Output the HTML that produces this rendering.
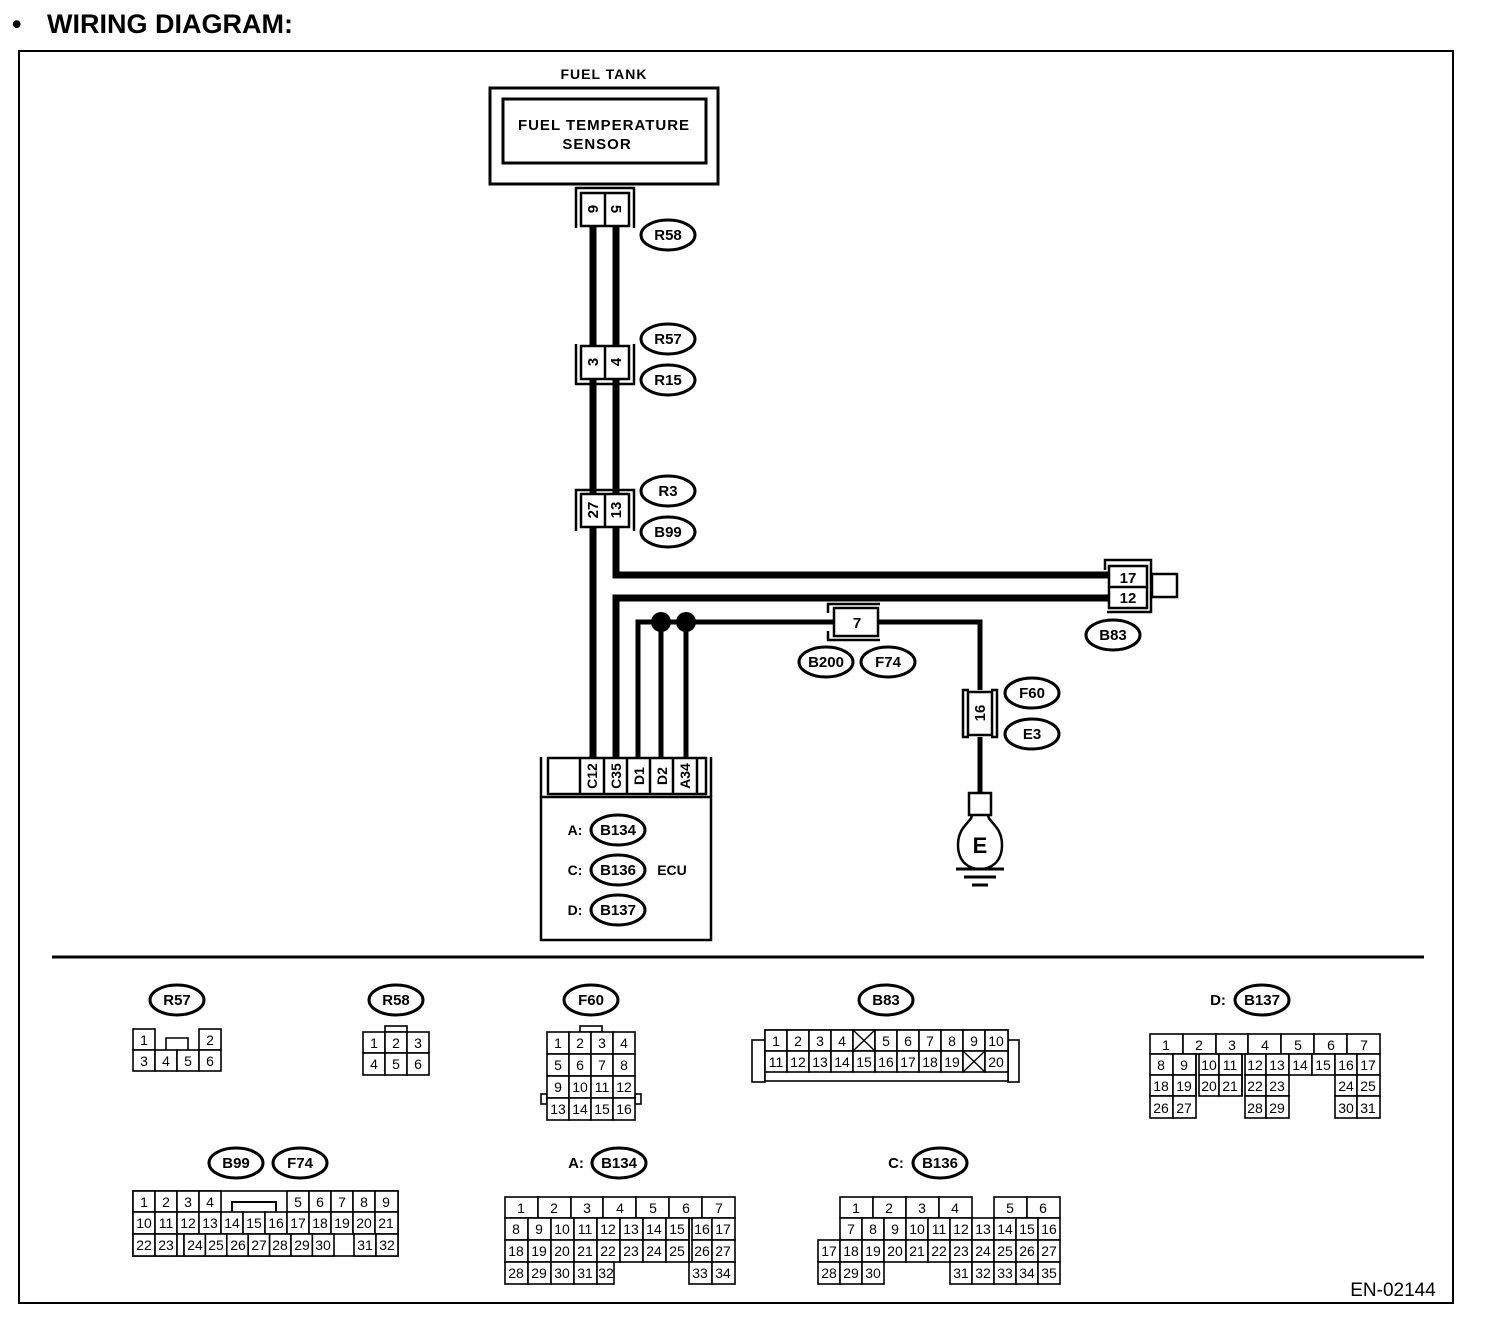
<!DOCTYPE html>
<html><head><meta charset="utf-8"><style>
html,body{margin:0;padding:0;background:#fff}
svg{display:block}
text{font-family:"Liberation Sans",sans-serif;fill:#000}
.c rect{fill:#fff;stroke:#000;stroke-width:1.6}
.c text{font-size:14px;text-anchor:middle}
.o ellipse{fill:#fff;stroke:#000;stroke-width:3}
.o text{font-size:15px;font-weight:bold;text-anchor:middle}
.b{font-weight:bold}
</style></head><body>
<svg width="1504" height="1320" viewBox="0 0 1504 1320" xmlns="http://www.w3.org/2000/svg">
<text x="12" y="33" font-size="27" class="b">•</text>
<text x="47" y="33" font-size="27" class="b">WIRING DIAGRAM:</text>
<rect x="19" y="51" width="1434" height="1252" fill="none" stroke="#000" stroke-width="2"/>

<!-- sensor -->
<text x="604" y="79" font-size="14" class="b" text-anchor="middle" letter-spacing="1">FUEL TANK</text>
<rect x="490" y="88" width="228" height="96" fill="none" stroke="#000" stroke-width="3"/>
<rect x="503" y="99" width="203" height="64" fill="none" stroke="#000" stroke-width="3"/>
<text x="604" y="130" font-size="15" class="b" text-anchor="middle" letter-spacing="1">FUEL TEMPERATURE</text>
<text x="597" y="149" font-size="15" class="b" text-anchor="middle" letter-spacing="1">SENSOR</text>

<!-- thick wires -->
<g fill="none" stroke="#000" stroke-width="7">
<line x1="593" y1="226" x2="593" y2="758"/>
<polyline points="616,226 616,575 1109,575"/>
<polyline points="1109,598 616,598 616,758"/>
</g>
<g fill="none" stroke="#000" stroke-width="5">
<polyline points="638,758 638,622 834,622"/>
<polyline points="878,622 980,622 980,690"/>
<line x1="980" y1="737" x2="980" y2="793"/>
<line x1="661" y1="622" x2="661" y2="758"/>
<line x1="686" y1="622" x2="686" y2="758"/>
</g>
<circle cx="661" cy="622" r="10"/><circle cx="686" cy="622" r="10"/>

<!-- R58 connector -->
<g fill="none" stroke="#000" stroke-width="2.5">
<polyline points="576,228 576,188 634,188 634,228"/>
<rect x="581" y="193" width="48" height="33" fill="#fff"/>
<line x1="605" y1="193" x2="605" y2="226"/>
<polyline points="576,344 576,384 634,384 634,344"/>
<rect x="581" y="346" width="48" height="33" fill="#fff"/>
<line x1="605" y1="346" x2="605" y2="379"/>
<polyline points="576,531 576,490 634,490 634,531"/>
<rect x="581" y="494" width="48" height="33" fill="#fff"/>
<line x1="605" y1="494" x2="605" y2="527"/>
</g>
<g font-size="15" class="b" text-anchor="middle">
<text transform="translate(588,209) rotate(90)">6</text>
<text transform="translate(611,209) rotate(90)">5</text>
<text transform="translate(598,362) rotate(-90)">3</text>
<text transform="translate(621,362) rotate(-90)">4</text>
<text transform="translate(598,510) rotate(-90)">27</text>
<text transform="translate(621,510) rotate(-90)">13</text>
</g>

<!-- B83 connector -->
<g fill="none" stroke="#000" stroke-width="2.5">
<polyline points="1105,570 1105,560 1151,560 1151,612 1107,612"/>
<rect x="1109" y="566" width="38" height="42" fill="#fff"/>
<line x1="1109" y1="587" x2="1147" y2="587"/>
<rect x="1152" y="574" width="25" height="23" fill="#fff"/>
</g>
<text x="1128" y="583" font-size="15" class="b" text-anchor="middle">17</text>
<text x="1128" y="603" font-size="15" class="b" text-anchor="middle">12</text>

<!-- 7 connector -->
<g fill="none" stroke="#000" stroke-width="2.5">
<polyline points="828,613 828,604 880,604"/>
<polyline points="828,631 828,640 880,640"/>
<rect x="834" y="608" width="44" height="28" fill="#fff"/>
</g>
<text x="857" y="628" font-size="15" class="b" text-anchor="middle">7</text>

<!-- 16 connector -->
<g fill="none" stroke="#000" stroke-width="2.5">
<polyline points="969,690 963,690 963,737 969,737"/>
<polyline points="991,690 997,690 997,737 991,737"/>
<rect x="968" y="692" width="24" height="43" fill="#fff"/>
</g>
<text transform="translate(985,713) rotate(-90)" font-size="15" class="b" text-anchor="middle">16</text>

<!-- ground -->
<g fill="none" stroke="#000" stroke-width="2.5">
<rect x="969" y="793" width="22" height="22" fill="#fff"/>
<path d="M972,815 C972,822 958,826 958,845 C958,862 969,869 980,869 C991,869 1002,862 1002,845 C1002,826 988,822 988,815"/>
<line x1="956" y1="869" x2="1004" y2="869" stroke-width="3"/>
<line x1="964" y1="877" x2="996" y2="877" stroke-width="3"/>
<line x1="972" y1="885" x2="988" y2="885" stroke-width="3"/>
</g>
<text x="980" y="853" font-size="22" class="b" text-anchor="middle">E</text>

<!-- ECU -->
<g fill="none" stroke="#000" stroke-width="2.5">
<rect x="541" y="797" width="170" height="143"/>
<polyline points="541,797 541,757"/><polyline points="711,797 711,757"/>
<rect x="548" y="758" width="158" height="36" fill="#fff"/>
<line x1="580" y1="758" x2="580" y2="794"/><line x1="604" y1="758" x2="604" y2="794"/>
<line x1="627" y1="758" x2="627" y2="794"/><line x1="650" y1="758" x2="650" y2="794"/>
<line x1="673" y1="758" x2="673" y2="794"/><line x1="697" y1="758" x2="697" y2="794"/>
</g>
<g font-size="14" class="b" text-anchor="middle">
<text transform="translate(597,776) rotate(-90)">C12</text>
<text transform="translate(621,776) rotate(-90)">C35</text>
<text transform="translate(644,776) rotate(-90)">D1</text>
<text transform="translate(667,776) rotate(-90)">D2</text>
<text transform="translate(690,776) rotate(-90)">A34</text>
<text x="575" y="835">A:</text><text x="575" y="875">C:</text><text x="575" y="915">D:</text>
<text x="672" y="875">ECU</text>
</g>

<!-- ovals -->
<g class="o">
<ellipse cx="668" cy="235" rx="27" ry="15"/><text x="668" y="240">R58</text>
<ellipse cx="668" cy="339" rx="27" ry="15"/><text x="668" y="344">R57</text>
<ellipse cx="668" cy="380" rx="27" ry="15"/><text x="668" y="385">R15</text>
<ellipse cx="668" cy="491" rx="27" ry="15"/><text x="668" y="496">R3</text>
<ellipse cx="668" cy="532" rx="27" ry="15"/><text x="668" y="537">B99</text>
<ellipse cx="1113" cy="635" rx="27" ry="15"/><text x="1113" y="640">B83</text>
<ellipse cx="826" cy="662" rx="27" ry="15"/><text x="826" y="667">B200</text>
<ellipse cx="888" cy="662" rx="27" ry="15"/><text x="888" y="667">F74</text>
<ellipse cx="1032" cy="693" rx="27" ry="15"/><text x="1032" y="698">F60</text>
<ellipse cx="1032" cy="734" rx="27" ry="15"/><text x="1032" y="739">E3</text>
<ellipse cx="618" cy="830" rx="27" ry="15"/><text x="618" y="835">B134</text>
<ellipse cx="618" cy="870" rx="27" ry="15"/><text x="618" y="875">B136</text>
<ellipse cx="618" cy="910" rx="27" ry="15"/><text x="618" y="915">B137</text>
<!-- bottom -->
<ellipse cx="177" cy="1000" rx="27" ry="15"/><text x="177" y="1005">R57</text>
<ellipse cx="396" cy="1000" rx="27" ry="15"/><text x="396" y="1005">R58</text>
<ellipse cx="591" cy="1000" rx="27" ry="15"/><text x="591" y="1005">F60</text>
<ellipse cx="886" cy="1000" rx="27" ry="15"/><text x="886" y="1005">B83</text>
<ellipse cx="1262" cy="1000" rx="27" ry="15"/><text x="1262" y="1005">B137</text>
<ellipse cx="236" cy="1163" rx="27" ry="15"/><text x="236" y="1168">B99</text>
<ellipse cx="300" cy="1163" rx="27" ry="15"/><text x="300" y="1168">F74</text>
<ellipse cx="619" cy="1163" rx="27" ry="15"/><text x="619" y="1168">B134</text>
<ellipse cx="940" cy="1163" rx="27" ry="15"/><text x="940" y="1168">B136</text>
<text x="1218" y="1005">D:</text><text x="576" y="1168">A:</text><text x="896" y="1168">C:</text>
</g>

<line x1="52" y1="957" x2="1424" y2="957" stroke="#000" stroke-width="3"/>

<g class="c">
<!-- R57 -->
<polyline points="166,1050 166,1038 188,1038 188,1050" fill="none" stroke="#000" stroke-width="1.6"/>
<rect x="133" y="1029" width="22" height="21"/><text x="144" y="1045">1</text>
<rect x="199" y="1029" width="22" height="21"/><text x="210" y="1045">2</text>
<rect x="133" y="1050" width="22" height="21"/><text x="144" y="1066">3</text>
<rect x="155" y="1050" width="22" height="21"/><text x="166" y="1066">4</text>
<rect x="177" y="1050" width="22" height="21"/><text x="188" y="1066">5</text>
<rect x="199" y="1050" width="22" height="21"/><text x="210" y="1066">6</text>
<!-- R58 -->
<rect x="385" y="1026" width="22" height="6"/>
<rect x="363" y="1032" width="22" height="21"/><text x="374" y="1048">1</text>
<rect x="385" y="1032" width="22" height="21"/><text x="396" y="1048">2</text>
<rect x="407" y="1032" width="22" height="21"/><text x="418" y="1048">3</text>
<rect x="363" y="1053" width="22" height="22"/><text x="374" y="1069">4</text>
<rect x="385" y="1053" width="22" height="22"/><text x="396" y="1069">5</text>
<rect x="407" y="1053" width="22" height="22"/><text x="418" y="1069">6</text>
<!-- F60 -->
<rect x="580" y="1026" width="22" height="6"/>
<rect x="541" y="1094" width="6" height="10"/><rect x="635" y="1094" width="6" height="10"/>
<rect x="547" y="1032" width="22" height="22"/><text x="558" y="1048">1</text>
<rect x="569" y="1032" width="22" height="22"/><text x="580" y="1048">2</text>
<rect x="591" y="1032" width="22" height="22"/><text x="602" y="1048">3</text>
<rect x="613" y="1032" width="22" height="22"/><text x="624" y="1048">4</text>
<rect x="547" y="1054" width="22" height="22"/><text x="558" y="1070">5</text>
<rect x="569" y="1054" width="22" height="22"/><text x="580" y="1070">6</text>
<rect x="591" y="1054" width="22" height="22"/><text x="602" y="1070">7</text>
<rect x="613" y="1054" width="22" height="22"/><text x="624" y="1070">8</text>
<rect x="547" y="1076" width="22" height="22"/><text x="558" y="1092">9</text>
<rect x="569" y="1076" width="22" height="22"/><text x="580" y="1092">10</text>
<rect x="591" y="1076" width="22" height="22"/><text x="602" y="1092">11</text>
<rect x="613" y="1076" width="22" height="22"/><text x="624" y="1092">12</text>
<rect x="547" y="1098" width="22" height="22"/><text x="558" y="1114">13</text>
<rect x="569" y="1098" width="22" height="22"/><text x="580" y="1114">14</text>
<rect x="591" y="1098" width="22" height="22"/><text x="602" y="1114">15</text>
<rect x="613" y="1098" width="22" height="22"/><text x="624" y="1114">16</text>
<!-- B83 -->
<rect x="752" y="1040" width="13" height="42"/><rect x="1008" y="1040" width="11" height="42"/>
<rect x="765" y="1030" width="243" height="51"/>
<rect x="765" y="1030" width="22" height="21"/><text x="776" y="1046">1</text>
<rect x="787" y="1030" width="22" height="21"/><text x="798" y="1046">2</text>
<rect x="809" y="1030" width="22" height="21"/><text x="820" y="1046">3</text>
<rect x="831" y="1030" width="22" height="21"/><text x="842" y="1046">4</text>
<rect x="853" y="1030" width="22" height="21"/>
<rect x="875" y="1030" width="22" height="21"/><text x="886" y="1046">5</text>
<rect x="897" y="1030" width="22" height="21"/><text x="908" y="1046">6</text>
<rect x="919" y="1030" width="22" height="21"/><text x="930" y="1046">7</text>
<rect x="941" y="1030" width="22" height="21"/><text x="952" y="1046">8</text>
<rect x="963" y="1030" width="22" height="21"/><text x="974" y="1046">9</text>
<rect x="985" y="1030" width="23" height="21"/><text x="996" y="1046">10</text>
<rect x="765" y="1051" width="22" height="21"/><text x="776" y="1067">11</text>
<rect x="787" y="1051" width="22" height="21"/><text x="798" y="1067">12</text>
<rect x="809" y="1051" width="22" height="21"/><text x="820" y="1067">13</text>
<rect x="831" y="1051" width="22" height="21"/><text x="842" y="1067">14</text>
<rect x="853" y="1051" width="22" height="21"/><text x="864" y="1067">15</text>
<rect x="875" y="1051" width="22" height="21"/><text x="886" y="1067">16</text>
<rect x="897" y="1051" width="22" height="21"/><text x="908" y="1067">17</text>
<rect x="919" y="1051" width="22" height="21"/><text x="930" y="1067">18</text>
<rect x="941" y="1051" width="22" height="21"/><text x="952" y="1067">19</text>
<rect x="963" y="1051" width="22" height="21"/>
<rect x="985" y="1051" width="23" height="21"/><text x="996" y="1067">20</text>
<g stroke="#000" stroke-width="1.4"><line x1="853" y1="1030" x2="875" y2="1051"/><line x1="875" y1="1030" x2="853" y2="1051"/><line x1="963" y1="1051" x2="985" y2="1072"/><line x1="985" y1="1051" x2="963" y2="1072"/></g>
<!-- B137 -->
<rect x="1150" y="1034" width="33" height="20"/><text x="1166" y="1050">1</text>
<rect x="1183" y="1034" width="33" height="20"/><text x="1199" y="1050">2</text>
<rect x="1216" y="1034" width="32" height="20"/><text x="1232" y="1050">3</text>
<rect x="1248" y="1034" width="33" height="20"/><text x="1265" y="1050">4</text>
<rect x="1281" y="1034" width="33" height="20"/><text x="1298" y="1050">5</text>
<rect x="1314" y="1034" width="33" height="20"/><text x="1331" y="1050">6</text>
<rect x="1347" y="1034" width="33" height="20"/><text x="1364" y="1050">7</text>
<rect x="1150" y="1054" width="23" height="21"/><text x="1161" y="1070">8</text>
<rect x="1173" y="1054" width="23" height="21"/><text x="1184" y="1070">9</text>
<rect x="1199" y="1054" width="20" height="21"/><text x="1209" y="1070">10</text>
<rect x="1219" y="1054" width="23" height="21"/><text x="1230" y="1070">11</text>
<rect x="1245" y="1054" width="21" height="21"/><text x="1255" y="1070">12</text>
<rect x="1266" y="1054" width="23" height="21"/><text x="1277" y="1070">13</text>
<rect x="1289" y="1054" width="23" height="21"/><text x="1300" y="1070">14</text>
<rect x="1312" y="1054" width="23" height="21"/><text x="1323" y="1070">15</text>
<rect x="1335" y="1054" width="22" height="21"/><text x="1346" y="1070">16</text>
<rect x="1357" y="1054" width="23" height="21"/><text x="1368" y="1070">17</text>
<rect x="1150" y="1075" width="23" height="21"/><text x="1161" y="1091">18</text>
<rect x="1173" y="1075" width="23" height="21"/><text x="1184" y="1091">19</text>
<rect x="1199" y="1075" width="20" height="21"/><text x="1209" y="1091">20</text>
<rect x="1219" y="1075" width="23" height="21"/><text x="1230" y="1091">21</text>
<rect x="1245" y="1075" width="21" height="21"/><text x="1255" y="1091">22</text>
<rect x="1266" y="1075" width="23" height="21"/><text x="1277" y="1091">23</text>
<rect x="1335" y="1075" width="22" height="21"/><text x="1346" y="1091">24</text>
<rect x="1357" y="1075" width="23" height="21"/><text x="1368" y="1091">25</text>
<rect x="1150" y="1096" width="23" height="22"/><text x="1161" y="1113">26</text>
<rect x="1173" y="1096" width="23" height="22"/><text x="1184" y="1113">27</text>
<rect x="1245" y="1096" width="21" height="22"/><text x="1255" y="1113">28</text>
<rect x="1266" y="1096" width="23" height="22"/><text x="1277" y="1113">29</text>
<rect x="1335" y="1096" width="22" height="22"/><text x="1346" y="1113">30</text>
<rect x="1357" y="1096" width="23" height="22"/><text x="1368" y="1113">31</text>
<line x1="1196" y1="1054" x2="1196" y2="1096" stroke="#000" stroke-width="1.6"/>
<line x1="1242" y1="1054" x2="1242" y2="1096" stroke="#000" stroke-width="1.6"/>

<!-- B99 -->
<rect x="133" y="1191" width="265" height="65"/>
<polyline points="232,1212 232,1202 276,1202 276,1212" fill="none" stroke="#000" stroke-width="2"/>
<rect x="133" y="1191" width="22" height="21"/><text x="144" y="1207">1</text>
<rect x="155" y="1191" width="22" height="21"/><text x="166" y="1207">2</text>
<rect x="177" y="1191" width="22" height="21"/><text x="188" y="1207">3</text>
<rect x="199" y="1191" width="22" height="21"/><text x="210" y="1207">4</text>
<rect x="287" y="1191" width="22" height="21"/><text x="298" y="1207">5</text>
<rect x="309" y="1191" width="22" height="21"/><text x="320" y="1207">6</text>
<rect x="331" y="1191" width="22" height="21"/><text x="342" y="1207">7</text>
<rect x="353" y="1191" width="22" height="21"/><text x="364" y="1207">8</text>
<rect x="375" y="1191" width="23" height="21"/><text x="386" y="1207">9</text>
<rect x="133" y="1212" width="22" height="22"/><text x="144" y="1228">10</text>
<rect x="155" y="1212" width="22" height="22"/><text x="166" y="1228">11</text>
<rect x="177" y="1212" width="22" height="22"/><text x="188" y="1228">12</text>
<rect x="199" y="1212" width="22" height="22"/><text x="210" y="1228">13</text>
<rect x="221" y="1212" width="22" height="22"/><text x="232" y="1228">14</text>
<rect x="243" y="1212" width="22" height="22"/><text x="254" y="1228">15</text>
<rect x="265" y="1212" width="22" height="22"/><text x="276" y="1228">16</text>
<rect x="287" y="1212" width="22" height="22"/><text x="298" y="1228">17</text>
<rect x="309" y="1212" width="22" height="22"/><text x="320" y="1228">18</text>
<rect x="331" y="1212" width="22" height="22"/><text x="342" y="1228">19</text>
<rect x="353" y="1212" width="22" height="22"/><text x="364" y="1228">20</text>
<rect x="375" y="1212" width="23" height="22"/><text x="386" y="1228">21</text>
<rect x="133" y="1234" width="22" height="22"/><text x="144" y="1250">22</text>
<rect x="155" y="1234" width="22" height="22"/><text x="166" y="1250">23</text>
<rect x="177" y="1234" width="7" height="22"/>
<rect x="184" y="1234" width="21.4" height="22"/><text x="195" y="1250">24</text>
<rect x="205.4" y="1234" width="21.4" height="22"/><text x="216" y="1250">25</text>
<rect x="226.8" y="1234" width="21.4" height="22"/><text x="238" y="1250">26</text>
<rect x="248.2" y="1234" width="21.4" height="22"/><text x="259" y="1250">27</text>
<rect x="269.6" y="1234" width="21.4" height="22"/><text x="280" y="1250">28</text>
<rect x="291" y="1234" width="21.4" height="22"/><text x="302" y="1250">29</text>
<rect x="312.4" y="1234" width="21.6" height="22"/><text x="323" y="1250">30</text>
<rect x="354" y="1234" width="22" height="22"/><text x="365" y="1250">31</text>
<rect x="376" y="1234" width="22" height="22"/><text x="387" y="1250">32</text>

<!-- A:B134 -->
<rect x="505" y="1197" width="33" height="21"/><text x="521" y="1213">1</text>
<rect x="538" y="1197" width="33" height="21"/><text x="554" y="1213">2</text>
<rect x="571" y="1197" width="32" height="21"/><text x="587" y="1213">3</text>
<rect x="603" y="1197" width="33" height="21"/><text x="620" y="1213">4</text>
<rect x="636" y="1197" width="33" height="21"/><text x="653" y="1213">5</text>
<rect x="669" y="1197" width="33" height="21"/><text x="686" y="1213">6</text>
<rect x="702" y="1197" width="33" height="21"/><text x="719" y="1213">7</text>
<rect x="505" y="1218" width="23" height="22"/><text x="516" y="1234">8</text>
<rect x="528" y="1218" width="23" height="22"/><text x="539" y="1234">9</text>
<rect x="551" y="1218" width="23" height="22"/><text x="562" y="1234">10</text>
<rect x="574" y="1218" width="23" height="22"/><text x="585" y="1234">11</text>
<rect x="597" y="1218" width="23" height="22"/><text x="608" y="1234">12</text>
<rect x="620" y="1218" width="23" height="22"/><text x="631" y="1234">13</text>
<rect x="643" y="1218" width="23" height="22"/><text x="654" y="1234">14</text>
<rect x="666" y="1218" width="23" height="22"/><text x="677" y="1234">15</text>
<rect x="692" y="1218" width="20" height="22"/><text x="702" y="1234">16</text>
<rect x="712" y="1218" width="23" height="22"/><text x="723" y="1234">17</text>
<rect x="505" y="1240" width="23" height="22"/><text x="516" y="1256">18</text>
<rect x="528" y="1240" width="23" height="22"/><text x="539" y="1256">19</text>
<rect x="551" y="1240" width="23" height="22"/><text x="562" y="1256">20</text>
<rect x="574" y="1240" width="23" height="22"/><text x="585" y="1256">21</text>
<rect x="597" y="1240" width="23" height="22"/><text x="608" y="1256">22</text>
<rect x="620" y="1240" width="23" height="22"/><text x="631" y="1256">23</text>
<rect x="643" y="1240" width="23" height="22"/><text x="654" y="1256">24</text>
<rect x="666" y="1240" width="23" height="22"/><text x="677" y="1256">25</text>
<rect x="692" y="1240" width="20" height="22"/><text x="702" y="1256">26</text>
<rect x="712" y="1240" width="23" height="22"/><text x="723" y="1256">27</text>
<rect x="505" y="1262" width="23" height="22"/><text x="516" y="1278">28</text>
<rect x="528" y="1262" width="23" height="22"/><text x="539" y="1278">29</text>
<rect x="551" y="1262" width="23" height="22"/><text x="562" y="1278">30</text>
<rect x="574" y="1262" width="23" height="22"/><text x="585" y="1278">31</text>
<rect x="597" y="1262" width="17" height="22"/><text x="606" y="1278">32</text>
<rect x="689" y="1262" width="23" height="22"/><text x="700" y="1278">33</text>
<rect x="712" y="1262" width="23" height="22"/><text x="723" y="1278">34</text>
<line x1="689" y1="1218" x2="689" y2="1262" stroke="#000" stroke-width="1.6"/>

<!-- C:B136 -->
<rect x="840" y="1197" width="33" height="21"/><text x="856" y="1213">1</text>
<rect x="873" y="1197" width="33" height="21"/><text x="889" y="1213">2</text>
<rect x="906" y="1197" width="33" height="21"/><text x="922" y="1213">3</text>
<rect x="939" y="1197" width="33" height="21"/><text x="955" y="1213">4</text>
<rect x="994" y="1197" width="33" height="21"/><text x="1010" y="1213">5</text>
<rect x="1027" y="1197" width="33" height="21"/><text x="1043" y="1213">6</text>
<rect x="840" y="1218" width="22" height="22"/><text x="851" y="1234">7</text>
<rect x="862" y="1218" width="22" height="22"/><text x="873" y="1234">8</text>
<rect x="884" y="1218" width="22" height="22"/><text x="895" y="1234">9</text>
<rect x="906" y="1218" width="22" height="22"/><text x="917" y="1234">10</text>
<rect x="928" y="1218" width="22" height="22"/><text x="939" y="1234">11</text>
<rect x="950" y="1218" width="22" height="22"/><text x="961" y="1234">12</text>
<rect x="972" y="1218" width="22" height="22"/><text x="983" y="1234">13</text>
<rect x="994" y="1218" width="22" height="22"/><text x="1005" y="1234">14</text>
<rect x="1016" y="1218" width="22" height="22"/><text x="1027" y="1234">15</text>
<rect x="1038" y="1218" width="22" height="22"/><text x="1049" y="1234">16</text>
<rect x="818" y="1240" width="22" height="22"/><text x="829" y="1256">17</text>
<rect x="840" y="1240" width="22" height="22"/><text x="851" y="1256">18</text>
<rect x="862" y="1240" width="22" height="22"/><text x="873" y="1256">19</text>
<rect x="884" y="1240" width="22" height="22"/><text x="895" y="1256">20</text>
<rect x="906" y="1240" width="22" height="22"/><text x="917" y="1256">21</text>
<rect x="928" y="1240" width="22" height="22"/><text x="939" y="1256">22</text>
<rect x="950" y="1240" width="22" height="22"/><text x="961" y="1256">23</text>
<rect x="972" y="1240" width="22" height="22"/><text x="983" y="1256">24</text>
<rect x="994" y="1240" width="22" height="22"/><text x="1005" y="1256">25</text>
<rect x="1016" y="1240" width="22" height="22"/><text x="1027" y="1256">26</text>
<rect x="1038" y="1240" width="22" height="22"/><text x="1049" y="1256">27</text>
<rect x="818" y="1262" width="22" height="22"/><text x="829" y="1278">28</text>
<rect x="840" y="1262" width="22" height="22"/><text x="851" y="1278">29</text>
<rect x="862" y="1262" width="22" height="22"/><text x="873" y="1278">30</text>
<rect x="950" y="1262" width="22" height="22"/><text x="961" y="1278">31</text>
<rect x="972" y="1262" width="22" height="22"/><text x="983" y="1278">32</text>
<rect x="994" y="1262" width="22" height="22"/><text x="1005" y="1278">33</text>
<rect x="1016" y="1262" width="22" height="22"/><text x="1027" y="1278">34</text>
<rect x="1038" y="1262" width="22" height="22"/><text x="1049" y="1278">35</text>
</g>

<text x="1393" y="1296" font-size="19" text-anchor="middle">EN-02144</text>
</svg>
</body></html>
